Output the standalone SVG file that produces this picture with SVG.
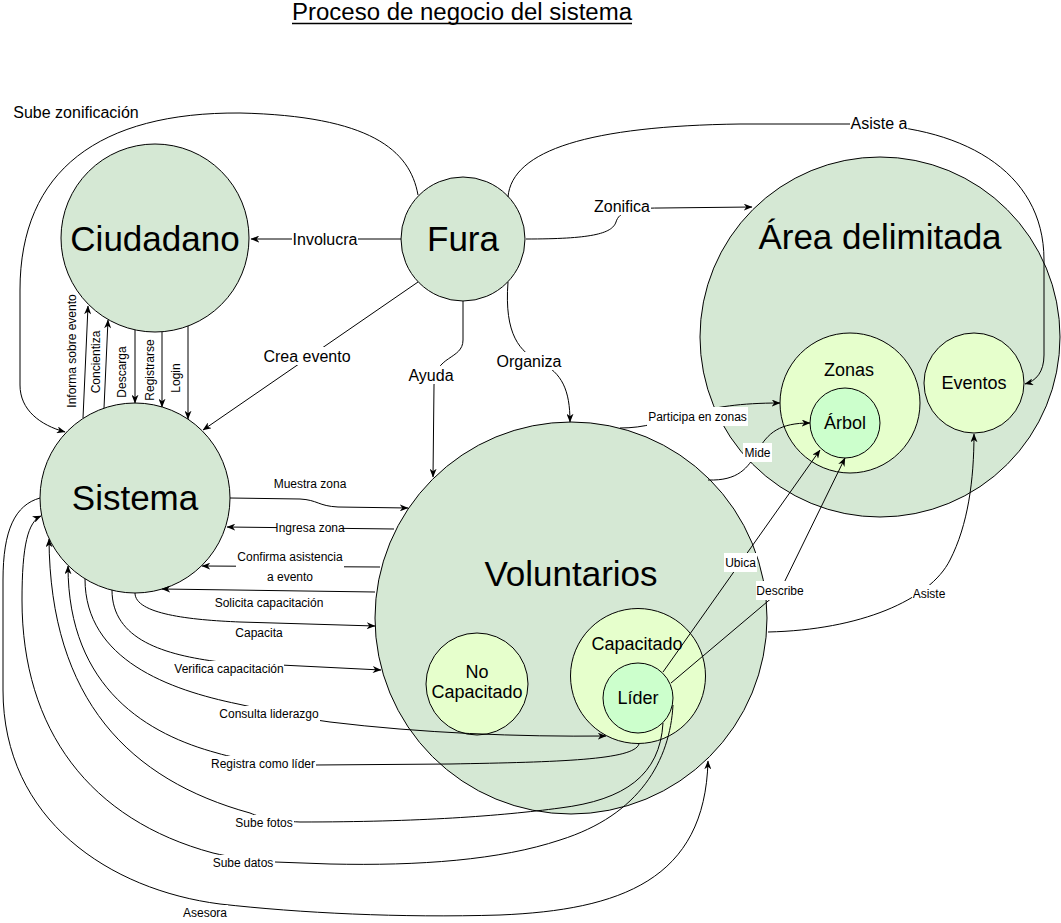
<svg xmlns="http://www.w3.org/2000/svg" width="1061" height="923" viewBox="0 0 1061 923">
<style>
text{font-family:'Liberation Sans',Arial,Helvetica,sans-serif;fill:#000;text-anchor:middle;dominant-baseline:central}
.big{fill:#d5e8d4;stroke:#000;stroke-width:1}
.mid{fill:#e6ffcc;stroke:#000;stroke-width:1}
.inn{fill:#ccffcc;stroke:#000;stroke-width:1}
.e{fill:none;stroke:#000;stroke-width:1;marker-end:url(#arr)}
.bg{fill:#fff}
.t12{font-size:12px}
.t16{font-size:16px}
.t18{font-size:18px}
.t35{font-size:35px}
.title{font-size:23px}
</style>
<defs>
<marker id="arr" viewBox="0 0 10 8" refX="9.5" refY="4" markerWidth="9" markerHeight="7" markerUnits="userSpaceOnUse" orient="auto">
<path d="M0,0 L10,4 L0,8 L3,4 z" fill="#000"/>
</marker>
</defs>
<rect width="1061" height="923" fill="#fff"/>
<g id="title">
<text class="title" x="462" y="12" textLength="340" lengthAdjust="spacingAndGlyphs">Proceso de negocio del sistema</text>
<line x1="292" y1="23.5" x2="632" y2="23.5" stroke="#000" stroke-width="1.3"/>
</g>

<g id="node-area">
<circle class="big" cx="880" cy="337" r="180"/>
<text class="t35" x="880" y="236">Área delimitada</text>
</g>
<g id="node-zonas">
<circle class="mid" cx="850" cy="403" r="70"/>
<text class="t18" x="849" y="370">Zonas</text>
</g>
<g id="node-arbol">
<circle class="inn" cx="845" cy="423" r="35"/>
<text class="t18" x="845" y="423">Árbol</text>
</g>
<g id="node-eventos">
<circle class="mid" cx="974" cy="383" r="50"/>
<text class="t18" x="974" y="383">Eventos</text>
</g>
<g id="node-ciudadano">
<circle class="big" cx="155" cy="238" r="94"/>
<text class="t35" x="155" y="238">Ciudadano</text>
</g>
<g id="node-fura">
<circle class="big" cx="463" cy="239" r="62"/>
<text class="t35" x="463" y="238">Fura</text>
</g>
<g id="node-sistema">
<circle class="big" cx="135" cy="498" r="95"/>
<text class="t35" x="135" y="497">Sistema</text>
</g>
<g id="node-voluntarios">
<circle class="big" cx="571" cy="618" r="196"/>
<text class="t35" x="571" y="573">Voluntarios</text>
</g>
<g id="node-nocapacitado">
<circle class="mid" cx="477" cy="684" r="51"/>
<text class="t18" x="477" y="672">No</text>
<text class="t18" x="477" y="692">Capacitado</text>
</g>
<g id="node-capacitado">
<circle class="mid" cx="638" cy="676" r="67.5"/>
<text class="t18" x="637" y="644">Capacitado</text>
</g>
<g id="node-lider">
<circle class="inn" cx="638" cy="698" r="35"/>
<text class="t18" x="638" y="698">Líder</text>
</g>

<g id="connectors">
<path class="e" d="M418,195 C410,150 370,116 240,113 C100,112 20,170 20,290 L20,385 C20,410 40,425 65,432"/>
<path class="e" d="M401,239 L251,239"/>
<path class="e" d="M418,282 L203,430"/>
<path class="e" d="M463,301 L463,340 C463,360 434,355 434,385 L433,477"/>
<path class="e" d="M508,282 C504,335 520,352 540,362 C562,373 570,390 570,422"/>
<path class="e" d="M526,239 C590,239 612,234 616,222 C619,212 630,208 660,208 L752,207"/>
<path class="e" d="M508,197 C512,150 590,126 740,124 L850,124 C960,124 1044,170 1044,260 L1044,355 C1044,372 1036,381 1025,384"/>
<path class="e" d="M620,428 C645,428 660,422 690,414 C715,407 740,403 780,403"/>
<path class="e" d="M708,480 C738,481 748,468 757,452 C768,432 780,423 810,423"/>
<path class="e" d="M663,672 L820,450"/>
<path class="e" d="M671,683 L780,591 L845,458"/>
<path class="e" d="M768,632 C860,630 930,600 950,560 C968,525 974,480 974,434"/>
<path class="e" d="M83,418 L88,306"/>
<path class="e" d="M104,408 L108,320"/>
<path class="e" d="M135,330 L135,403"/>
<path class="e" d="M162,332 L162,407"/>
<path class="e" d="M188,326 L188,419"/>
<path class="e" d="M230,498 L300,499 C318,500 318,506 338,507 L408,508"/>
<path class="e" d="M394,529 L227,527"/>
<path class="e" d="M380,567 L202,566"/>
<path class="e" d="M375,592 L162,589"/>
<path class="e" d="M135,593 C135,614 190,620 240,622 L375,626"/>
<path class="e" d="M112,590 C112,640 165,655 220,662 L381,670"/>
<path class="e" d="M85,579 C85,660 170,690 238,704 C270,711 300,718 330,722 C420,733 520,737 606,736"/>
<path class="e" d="M639,744 C634,760 560,762 450,764 L315,765 C280,765 240,760 217,753 C150,735 68,690 68,566"/>
<path class="e" d="M663,723 C660,775 625,800 560,808 C500,816 420,822 300,822 C275,821 262,818 250,813 C130,780 50,700 49,539"/>
<path class="e" d="M673,705 C670,760 640,815 560,840 C500,860 420,866 330,864 L275,862 C250,860 230,857 213,853 C90,820 22,730 22,600 C22,545 28,522 41,516"/>
<path class="e" d="M40,498 C15,505 3,530 3,580 L3,690 C3,820 110,890 220,904 C300,913 400,918 500,915 C620,910 705,880 708,761"/>

<g id="labels">
<rect class="bg" x="13" y="103" width="126" height="18"/><text class="t16" x="76" y="112">Sube zonificación</text>
<rect class="bg" x="292" y="230" width="66" height="18"/><text class="t16" x="325" y="239">Involucra</text>
<rect class="bg" x="263" y="347" width="88" height="18"/><text class="t16" x="307" y="356">Crea evento</text>
<rect class="bg" x="408" y="366" width="46" height="18"/><text class="t16" x="431" y="375">Ayuda</text>
<rect class="bg" x="496" y="352" width="66" height="18"/><text class="t16" x="529" y="361">Organiza</text>
<rect class="bg" x="594" y="197" width="57" height="18"/><text class="t16" x="622" y="206">Zonifica</text>
<rect class="bg" x="850" y="114" width="58" height="18"/><text class="t16" x="879" y="123">Asiste a</text>
<rect class="bg" x="647" y="407" width="101" height="19"/><text class="t12" x="697.5" y="416.5">Participa en zonas</text>
<rect class="bg" x="743" y="443" width="29" height="19"/><text class="t12" x="757.5" y="452.5">Mide</text>
<rect class="bg" x="724" y="553" width="33" height="19"/><text class="t12" x="740.5" y="562.5">Ubica</text>
<rect class="bg" x="756" y="581" width="48" height="19"/><text class="t12" x="780" y="590.5">Describe</text>
<rect class="bg" x="912" y="585" width="34" height="18"/><text class="t12" x="929" y="594">Asiste</text>
<text class="t12" x="310" y="484">Muestra zona</text>
<rect class="bg" x="277" y="520" width="66" height="16"/><text class="t12" x="310" y="528">Ingresa zona</text>
<rect class="bg" x="236" y="548" width="108" height="38"/><text class="t12" x="290" y="557">Confirma asistencia</text><text class="t12" x="290" y="577">a evento</text>
<text class="t12" x="269" y="603">Solicita capacitación</text>
<text class="t12" x="259" y="633">Capacita</text>
<rect class="bg" x="174" y="661" width="110" height="16"/><text class="t12" x="229" y="669">Verifica capacitación</text>
<rect class="bg" x="219" y="706" width="101" height="16"/><text class="t12" x="269" y="714">Consulta liderazgo</text>
<rect class="bg" x="210" y="756" width="106" height="16"/><text class="t12" x="263" y="764">Registra como líder</text>
<rect class="bg" x="235" y="815" width="59" height="16"/><text class="t12" x="264" y="823">Sube fotos</text>
<rect class="bg" x="212" y="855" width="63" height="16"/><text class="t12" x="243" y="863">Sube datos</text>
<rect class="bg" x="182" y="905" width="46" height="16"/><text class="t12" x="205" y="913">Asesora</text>
<text class="t12" transform="translate(72,351) rotate(-90)">Informa sobre evento</text>
<text class="t12" transform="translate(96,362) rotate(-90)">Concientiza</text>
<text class="t12" transform="translate(122,372) rotate(-90)">Descarga</text>
<text class="t12" transform="translate(150,370) rotate(-90)">Registrarse</text>
<text class="t12" transform="translate(176,378) rotate(-90)">Login</text>
</g>
</g>
</svg>
